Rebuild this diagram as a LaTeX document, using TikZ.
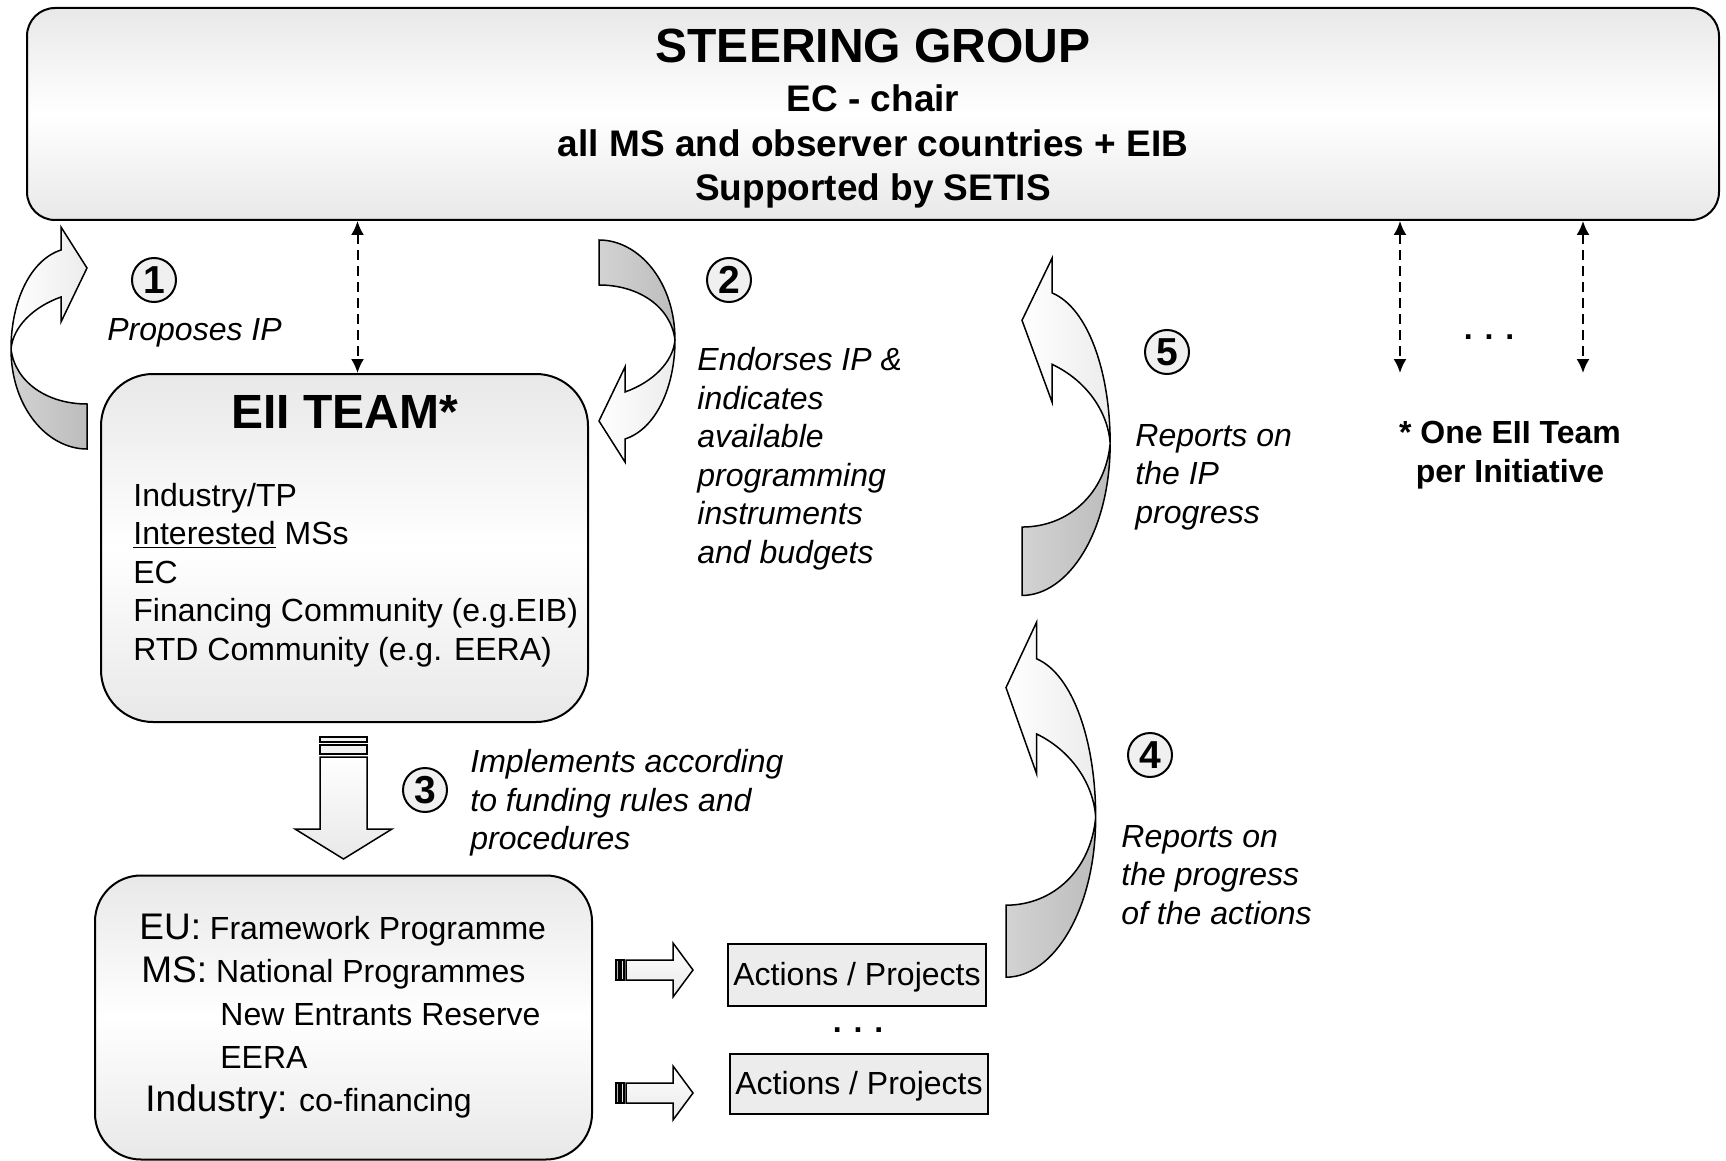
\documentclass[tikz,border=0pt]{standalone}
\usepackage{fontspec}
\setmainfont{Liberation Sans}
\usetikzlibrary{arrows.meta,positioning,calc}

\tikzset{
	bentarrow/.pic={
		% front part with the head
		\path [draw,line width=0.75pt,left color=white,right color=gray!15]
			(76,122) .. controls (76,75) and (57,33) .. (26,23) -- (26,0) -- (0,41)
			-- (26,95) -- (26,70) .. controls (54,80) and (74,100) .. (76,122) -- cycle;
		% back part at the tail
		\path [draw,line width=0.75pt,left color=gray!35,right color=gray!52]
			(76,122) .. controls (76,180) and (40,222) .. (0,222) -- (0,177)
			.. controls (40,177) and (72,155) .. (76,122) -- cycle;
	}
}

\begin{document}
\begin{tikzpicture}[x=0.5pt,y=-0.5pt,
		roundbox/.style={rectangle,draw,line width=1pt,top color=gray!18,bottom color=gray!18,middle color=white},
		smallbox/.style={rectangle,draw,line width=0.75pt,fill=gray!15,inner sep=0pt},
		numcirc/.style={circle,draw,line width=1pt,fill=gray!12,minimum size=22pt,inner sep=0pt,font=\bfseries\fontsize{19.5}{20}\selectfont},
		note/.style={inner sep=0pt,align=left,font=\itshape},
		dlink/.style={<->,line width=1pt,dash pattern=on 5pt off 3pt},
		blockarrow/.style={draw,line width=0.75pt,top color=white,bottom color=gray!18},
		>={Latex[length=7pt,width=6.5pt]}]
		\fontsize{16}{19.25}\selectfont
		\path [fill=white] (0,0) rectangle (1726,1161);
		\useasboundingbox (0,0) rectangle (1726,1161);

		\node [roundbox,rounded corners=14pt,minimum width=846pt,minimum height=106pt] (steer) at (873,114) {};
		\node [inner sep=0pt,align=center,anchor=north,font=\bfseries\fontsize{18.5}{22.25}\selectfont] (steertext) at (873,29) {
			{\fontsize{24}{28}\selectfont STEERING GROUP}\\[2.25pt]
			EC - chair\\
			all MS and observer countries + EIB\\
			Supported by SETIS
		};

		\node [roundbox,rounded corners=26pt,minimum width=243.5pt,minimum height=174pt] (eii) at (344.5,548) {};
		\node [inner sep=0pt,font=\bfseries\fontsize{24}{28}\selectfont] (eiititle) [below=11pt of eii.north] {EII TEAM*};
		\node [inner sep=0pt,align=left] (eiilist) [below right=54.75pt and 16.5pt of eii.north west] {
			Industry/TP\\
			\underline{Interested} MSs\\
			EC\\
			Financing Community (e.g.EIB)\\
			RTD Community (e.g. EERA)
		};

		\node [roundbox,rounded corners=23pt,minimum width=248.5pt,minimum height=142pt] (prog) at (343.5,1017.5) {};
		\node [inner sep=0pt,align=left,font=\fontsize{16}{21.5}\selectfont] (progtext) [below right=19.5pt and 22.5pt of prog.north west] {
			{\fontsize{18.5}{21.5}\selectfont EU:} Framework Programme\\
			\hspace*{1pt}{\fontsize{18.5}{21.5}\selectfont MS:} National Programmes\\
			\hspace*{40.5pt}New Entrants Reserve\\
			\hspace*{40.5pt}EERA\\
			\hspace*{3pt}{\fontsize{18.5}{21.5}\selectfont Industry:} co-financing
		};

		\node [smallbox,minimum width=129pt,minimum height=31pt,text depth=1.5pt] (act1) at (857,975) {Actions / Projects};
		\node [smallbox,minimum width=129pt,minimum height=30pt,text depth=1.5pt] (act2) at (859,1084) {Actions / Projects};
		\node [inner sep=0pt,font=\bfseries] (actdots) at ($(act1.south)!0.5!(act2.north)$) {. . .};

		% step numbers
		\node [numcirc] (n1) at (154,280) {1};
		\node [numcirc] (n2) at (729,280) {2};
		\node [numcirc] (n3) at (425,790) {3};
		\node [numcirc] (n4) at (1150,755) {4};
		\node [numcirc] (n5) at (1167,352) {5};

		% step texts
		\node [note,anchor=base west] (propose) at (107,340) {Proposes IP};
		\node [note,anchor=north west] (endorse) at (697,347) {Endorses IP \&\\ indicates\\ available\\ programming\\ instruments\\ and budgets};
		\node [note,anchor=north west] (reportip) at (1135,424) {Reports on\\ the IP\\ progress};
		\node [note,anchor=north west] (implement) at (470,749) {Implements according\\ to funding rules and\\ procedures};
		\node [note,anchor=north west] (reportact) at (1121,825) {Reports on\\ the progress\\ of the actions};
		\node [inner sep=0pt,align=center,anchor=north,font=\bfseries] (oneteam) at (1510,421) {* One EII Team\\ per Initiative};
		\node [inner sep=0pt,font=\bfseries] (teamdots) at (1489,337) {. . .};

		% dashed links to the steering group
		\coordinate (eiitop) at ([xshift=6.5pt]eii.north);
		\coordinate (team2) at (1400,373);
		\coordinate (team3) at (1583,373);
		\draw [dlink] (eiitop |- steer.south) to (eiitop);
		\draw [dlink] (steer.south -| team2) to (team2);
		\draw [dlink] (steer.south -| team3) to (team3);

		% curved arrows
		\pic [xscale=-1] at (87,227) {bentarrow};
		\pic [yscale=-1] at (599,462) {bentarrow};
		\pic [xscale=1.16,yscale=1.52] at (1022,258) {bentarrow};
		\pic [xscale=1.18,yscale=1.6] at (1006,622) {bentarrow};

		% striped block arrows
		\coordinate (implstart) at ($(eii.south)+(-1,14)$);
		\draw [line width=0.75pt,fill=gray!10] ($(implstart)+(-23.5,0)$) rectangle ++(47,5);
		\draw [line width=0.75pt,fill=gray!10] ($(implstart)+(-23.5,8)$) rectangle ++(47,9);
		\draw [blockarrow] ($(implstart)+(-23.5,20)$) -- ++(0,72) -- ++(-25,0) -- ++(48.5,30) -- ++(48.5,-30) -- ++(-25,0) -- ++(0,-72) -- cycle;

		\coordinate (fund1) at ($(prog.east |- act1.west)+(23,-5)$);
		\coordinate (fund2) at ($(prog.east |- act2.west)+(23,9)$);
		\draw [line width=0.75pt,fill=gray!60] ($(fund1)+(0,-10)$) rectangle ++(3,20);
		\draw [line width=0.75pt,fill=gray!20] ($(fund1)+(5,-10)$) rectangle ++(3,20);
		\draw [blockarrow] ($(fund1)+(10,-10)$) -- ++(47,0) -- ++(0,-17) -- ++(20,27) -- ++(-20,27) -- ++(0,-17) -- ++(-47,0) -- cycle;
		\draw [line width=0.75pt,fill=gray!60] ($(fund2)+(0,-10)$) rectangle ++(3,20);
		\draw [line width=0.75pt,fill=gray!20] ($(fund2)+(5,-10)$) rectangle ++(3,20);
		\draw [blockarrow] ($(fund2)+(10,-10)$) -- ++(47,0) -- ++(0,-17) -- ++(20,27) -- ++(-20,27) -- ++(0,-17) -- ++(-47,0) -- cycle;
	\end{tikzpicture}
\end{document}
